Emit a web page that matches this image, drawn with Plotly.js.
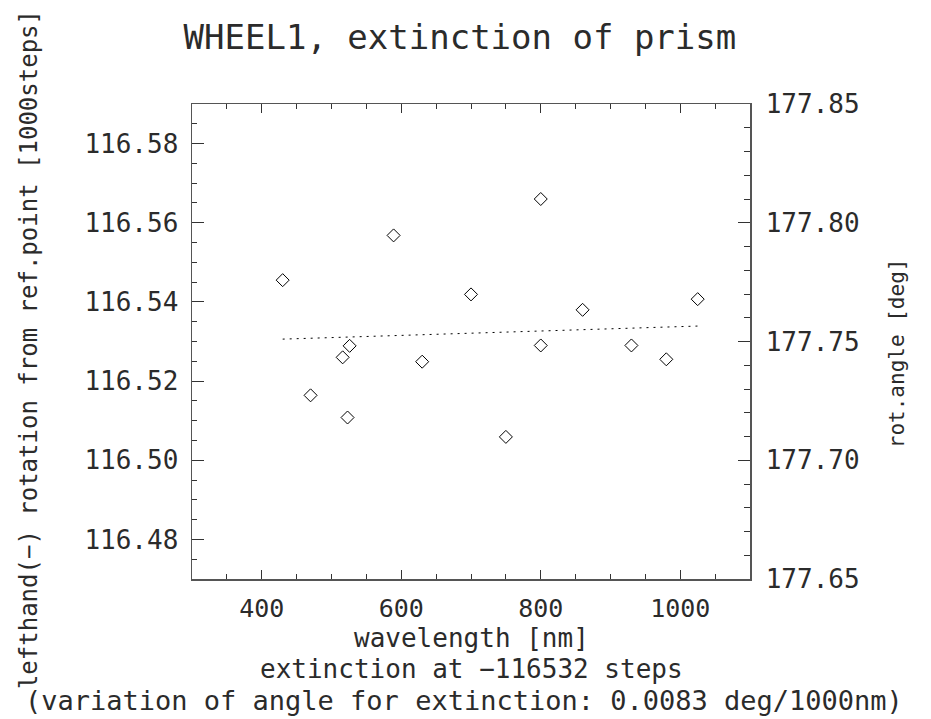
<!DOCTYPE html>
<html>
<head>
<meta charset="utf-8">
<script src="https://cdn.plot.ly/plotly-3.0.1.min.js"></script>
<style>html,body{margin:0;padding:0;background:#fff;}#chart{width:931px;height:719px;}</style>
</head>
<body>
<div id="chart"></div>
<script>
// measured wavelengths [nm]
const wavelength = [430, 470, 516, 523, 526, 589, 630, 700, 750, 800, 800, 860, 930, 980, 1025];
// rotation from ref. point [1000 steps]
const rotation = [116.5455, 116.5164, 116.5260, 116.5108, 116.5289, 116.5568, 116.5249, 116.5419,
                  116.5059, 116.5660, 116.5290, 116.5380, 116.5290, 116.5255, 116.5407];
// linear fit end points
const fitX = [430, 1025];
const fitY = [116.5306, 116.5339];

const titleText = "WHEEL1, extinction of prism";
const xTitle = "wavelength [nm]";
const yTitle = "lefthand(−) rotation from ref.point [1000steps]";
const y2Title = "rot.angle [deg]";
const note1 = "extinction at −116532 steps";
const note2 = "(variation of angle for extinction: 0.0083 deg/1000nm)";

const FONT = "DejaVu Sans Mono, monospace";
const TXT = "#2b2b2b";

const traces = [
  {x: wavelength, y: rotation, type: "scatter", mode: "markers",
   marker: {symbol: "diamond-open", size: 10, color: "#000", line: {width: 1, color: "#000"}},
   hoverinfo: "x+y", showlegend: false},
  {x: fitX, y: fitY, type: "scatter", mode: "lines",
   line: {color: "#000", width: 1, dash: "2px,5px"}, showlegend: false, hoverinfo: "skip"},
  {x: [], y: [], yaxis: "y2", type: "scatter", mode: "markers", showlegend: false, hoverinfo: "skip"}
];

const layout = {
  width: 931, height: 719,
  paper_bgcolor: "#fff", plot_bgcolor: "#fff",
  margin: {l: 192, r: 181, t: 104, b: 140, pad: 0},
  font: {family: FONT, color: TXT, size: 22},
  title: {text: titleText, x: 0.494, xanchor: "center", y: 0.949, yanchor: "middle",
          font: {family: FONT, size: 34, color: TXT}},
  xaxis: {
    range: [300, 1100], tick0: 0, dtick: 200, ticks: "inside", ticklen: 9, tickwidth: 1,
    tickcolor: "#333", showline: true, linecolor: "#555", linewidth: 1.5, mirror: "ticks",
    showgrid: false, zeroline: false, ticklabelstandoff: 6,
    tickfont: {family: FONT, size: 25, color: TXT},
    minor: {dtick: 50, ticks: "inside", ticklen: 5, tickcolor: "#333", showgrid: false}
  },
  yaxis: {
    range: [116.47, 116.59], tick0: 116.48, dtick: 0.02, tickformat: ".2f",
    ticks: "inside", ticklen: 12, tickwidth: 1, tickcolor: "#333",
    showline: true, linecolor: "#555", linewidth: 1.5, showgrid: false, zeroline: false,
    ticklabelstandoff: 7,
    tickfont: {family: FONT, size: 26, color: TXT},
    minor: {dtick: 0.005, ticks: "inside", ticklen: 5, tickcolor: "#333", showgrid: false}
  },
  yaxis2: {
    overlaying: "y", side: "right", anchor: "x",
    range: [177.65, 177.85], tick0: 177.65, dtick: 0.05, tickformat: ".2f",
    ticks: "inside", ticklen: 12, tickwidth: 1, tickcolor: "#333",
    showline: true, linecolor: "#555", linewidth: 1.5, showgrid: false, zeroline: false,
    ticklabelstandoff: 9,
    tickfont: {family: FONT, size: 26, color: TXT},
    minor: {dtick: 0.01, ticks: "inside", ticklen: 6, tickcolor: "#333", showgrid: false}
  },
  annotations: [
    {text: xTitle, xref: "paper", yref: "paper", x: 0.5, y: -0.124, xanchor: "center", yanchor: "middle",
     showarrow: false, font: {family: FONT, size: 26, color: TXT}},
    {text: note1, xref: "paper", yref: "paper", x: 0.5, y: -0.19, xanchor: "center", yanchor: "middle",
     showarrow: false, font: {family: FONT, size: 26, color: TXT}},
    {text: note2, xref: "paper", yref: "paper", x: 0.488, y: -0.2567, xanchor: "center", yanchor: "middle",
     showarrow: false, font: {family: FONT, size: 27, color: TXT}},
    {text: yTitle, xref: "paper", yref: "paper", x: -0.292, y: 0.482, xanchor: "center", yanchor: "middle",
     textangle: -90, showarrow: false, font: {family: FONT, size: 24, color: TXT}},
    {text: y2Title, xref: "paper", yref: "paper", x: 1.264, y: 0.476, xanchor: "center", yanchor: "middle",
     textangle: -90, showarrow: false, font: {family: FONT, size: 21, color: TXT}}
  ]
};

Plotly.newPlot("chart", traces, layout, {displayModeBar: false, staticPlot: true});
</script>
</body>
</html>
